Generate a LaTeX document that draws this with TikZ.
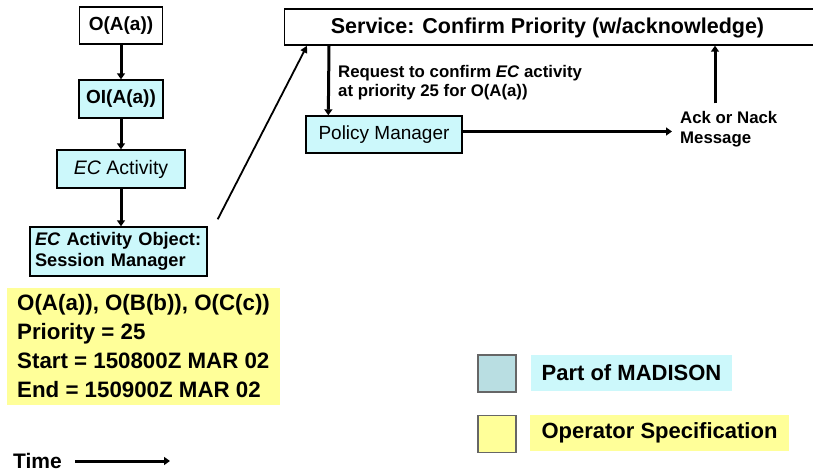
\documentclass[tikz,border=0pt]{standalone}
\usepackage{fontspec}
\setmainfont{Liberation Sans}
\usetikzlibrary{arrows.meta,calc}
\definecolor{boxcyan}{HTML}{CCF8FB}
\definecolor{legcyan}{HTML}{B9DEE2}
\definecolor{specyellow}{HTML}{FFFF99}
\begin{document}
\begin{tikzpicture}[x=1pt,y=-1pt,
  box/.style={draw=black,line width=1.4pt,inner sep=0pt,align=center},
  cyanbox/.style={box,fill=boxcyan},
  thickarr/.style={line width=3pt,-{Triangle[length=6pt,width=8pt]}},
  thinarr/.style={line width=1.8pt,-{Triangle[length=7pt,width=7pt]}},
  lbl/.style={inner sep=0pt,font=\bfseries\fontsize{16.8}{19.5}\selectfont,align=left},
  legsq/.style={draw=black!60,line width=1.4pt,minimum width=38pt,minimum height=37pt,inner sep=0pt}
]
\useasboundingbox (0,0) rectangle (813,473);

% left chain
\node[box,fill=white,minimum width=83pt,minimum height=37pt,font=\bfseries\fontsize{19}{22}\selectfont] (oaa) at (121,25.5) {O(A(a))};
\node[cyanbox,minimum width=84pt,minimum height=38pt,font=\bfseries\fontsize{19}{22}\selectfont] (oia) at (121,99) {OI(A(a))};
\node[cyanbox,minimum width=128pt,minimum height=38pt,font=\fontsize{19.5}{22}\selectfont] (eca) at (121,169) {\textit{EC} Activity};
\node[cyanbox,minimum width=177pt,minimum height=49pt,text width=167pt,align=left,inner xsep=5pt,font=\bfseries\fontsize{18.2}{20.5}\selectfont] (ecao) at (118.5,251.5) {\textit{EC} Activity Object:\\Session Manager};

\draw[thickarr] (oaa.south) -- (oia.north);
\draw[thickarr] (oia.south) -- (eca.north);
\draw[thickarr] (eca.south) -- (eca.south |- ecao.north);

% operator specification
\node[fill=specyellow,minimum width=273pt,minimum height=117pt,inner sep=0pt] (spec) at (143.5,346.5) {};
\node[anchor=west,inner sep=0pt,align=left,font=\bfseries\fontsize{22.3}{28.7}\selectfont] (spectext) at (17,346) {O(A(a)), O(B(b)), O(C(c))\\Priority = 25\\Start = 150800Z MAR 02\\End = 150900Z MAR 02};

% service
\node[box,fill=white,minimum width=546pt,minimum height=36pt,anchor=west] (svc) at (284,27) {};
\node[inner sep=0pt,font=\bfseries\fontsize{21.5}{24}\selectfont] (svctext) at (547.5,27.5) {Service: Confirm Priority (w/acknowledge)};

\node[cyanbox,minimum width=156pt,minimum height=37pt,font=\fontsize{19}{22}\selectfont] (pm) at (384,134.5) {Policy Manager};

\node[lbl,anchor=north west] (req) at (338,65) {Request to confirm \textit{EC} activity\\at priority 25 for O(A(a))};
\node[lbl,anchor=north west,inner xsep=8pt] (ack) at (672,111.5) {Ack or Nack\\Message};

\draw[thickarr] ([xshift=45pt]svc.south west) -- ([xshift=23pt]pm.north west);
\draw[thickarr] ([yshift=3pt]pm.east) -- ([yshift=3pt]pm.east -| ack.west);
\coordinate (ackup) at ([xshift=43pt,yshift=8pt]ack.north west);
\draw[thickarr] (ackup) -- (ackup |- svc.south);

\draw[thinarr] ([xshift=10pt,yshift=7pt]ecao.north east) -- ([xshift=23pt]svc.south west);

% time
\node[inner sep=0pt,font=\bfseries\fontsize{21}{24}\selectfont] (time) at (37.5,461) {Time};
\coordinate (timeend) at (170,461);
\draw[thickarr] ([xshift=13pt]time.east) -- (timeend);

% legend
\node[legsq,fill=legcyan] (sqcyan) at (497,373.5) {};
\node[legsq,fill=specyellow] (sqyellow) at (497,434) {};
\node[fill=boxcyan,minimum width=201pt,minimum height=36pt,inner sep=0pt,font=\bfseries\fontsize{22}{24}\selectfont] (lcyan) at (631.5,373) {Part of MADISON};
\node[fill=specyellow,minimum width=259pt,minimum height=36pt,inner sep=0pt,font=\bfseries\fontsize{22}{24}\selectfont] (lyellow) at (659.5,433) {Operator Specification};
\end{tikzpicture}
\end{document}
